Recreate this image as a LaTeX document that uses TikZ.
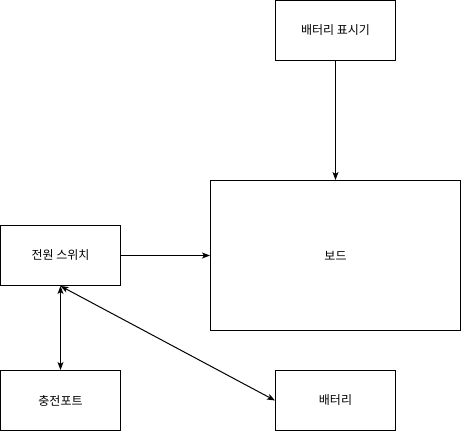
\documentclass[tikz,border=0pt]{standalone}
\usepackage{fontspec}
\newfontfamily\kr{Noto Sans CJK KR}
\usetikzlibrary{arrows.meta}
\begin{document}
\begin{tikzpicture}[x=1pt,y=-1pt,
  box/.style={draw,line width=1pt,inner sep=0pt,font=\kr\fontsize{12}{14}\selectfont},
  conn/.style={line width=1pt,-{Stealth[length=8pt,width=6pt,inset=2pt]}},
  bconn/.style={line width=1pt,{Stealth[length=8pt,width=6pt,inset=2pt]}-{Stealth[length=8pt,width=6pt,inset=2pt]}}]
\useasboundingbox (0,0) rectangle (461,431);
\node[box,minimum width=120pt,minimum height=60pt] (ind) at (335.5,30.5) {배터리 표시기};
\node[box,minimum width=250pt,minimum height=150pt] (board) at (335.5,255.5) {보드};
\node[box,minimum width=120pt,minimum height=60pt] (sw) at (60.5,255.5) {전원 스위치};
\node[box,minimum width=120pt,minimum height=60pt] (port) at (60.5,400.5) {충전포트};
\node[box,minimum width=120pt,minimum height=60pt] (bat) at (335.5,400.5) {배터리};
\draw[conn] (ind.south) -- (board.north);
\draw[conn] (sw.east) -- (board.west);
\draw[bconn] (sw.south) -- (port.north);
\draw[bconn] (sw.south) -- (bat.west);
\end{tikzpicture}
\end{document}
